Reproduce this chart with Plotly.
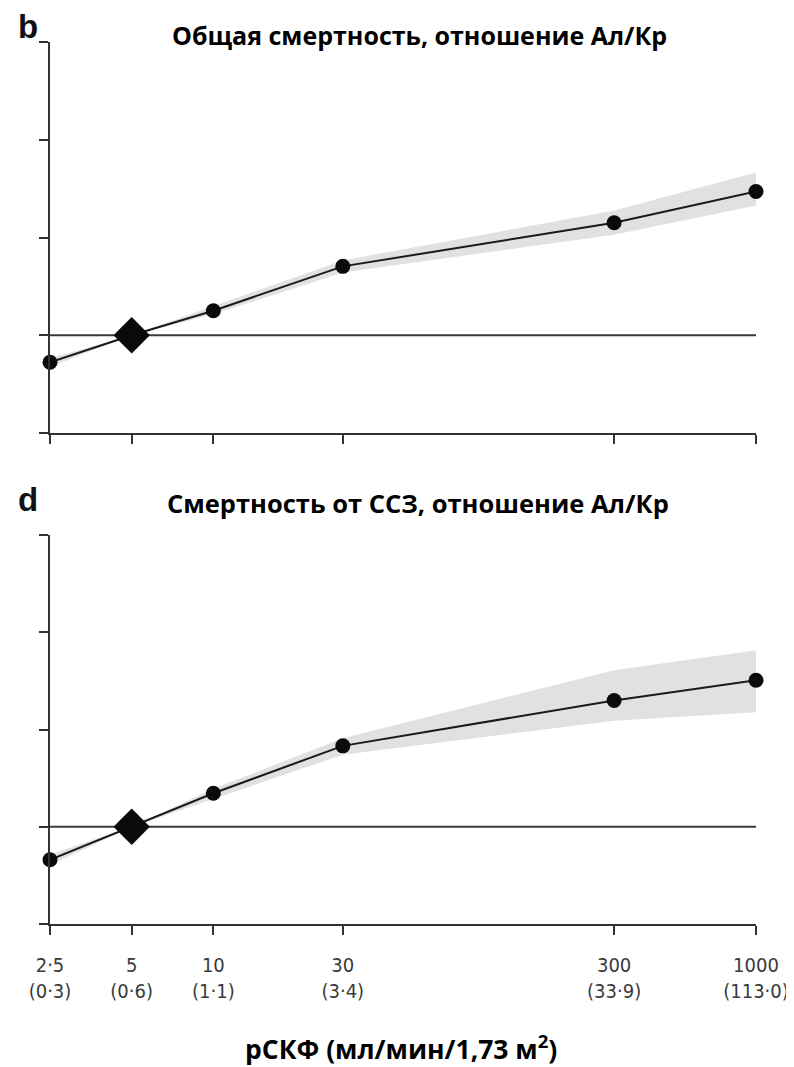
import math
import plotly.graph_objects as go

# ---- data ----
acr = [2.5, 5, 10, 30, 300, 1000]
acr_labels = ["2·5<br>(0·3)", "5<br>(0·6)", "10<br>(1·1)", "30<br>(3·4)", "300<br>(33·9)", "1000<br>(113·0)"]

hr_all = [0.826, 1.0, 1.19, 1.63, 2.22, 2.77]
hr_all_lo = [0.80, 1.0, 1.16, 1.56, 2.04, 2.51]
hr_all_hi = [0.85, 1.0, 1.23, 1.70, 2.42, 3.17]

hr_cvd = [0.79, 1.0, 1.27, 1.78, 2.46, 2.84]
hr_cvd_lo = [0.76, 1.0, 1.22, 1.67, 2.13, 2.26]
hr_cvd_hi = [0.82, 1.0, 1.31, 1.88, 3.05, 3.52]

ref_index = 1  # reference category (diamond)
y_ticks = [0.5, 1, 2, 4, 8]

title_top = "Общая смертность, отношение Ал/Кр"
title_bot = "Смертность от ССЗ, отношение Ал/Кр"
x_title = "рСКФ (мл/мин/1,73 м<sup>2</sup>)"

OFF = 8  # page body margin
W, H = 794 - OFF, 1067 - OFF
fig = go.Figure()

def add_panel(xa, ya, hr, lo, hi):
    fig.add_trace(go.Scatter(
        x=acr + acr[::-1], y=hi + lo[::-1], xaxis=xa, yaxis=ya,
        fill="toself", fillcolor="rgba(205,205,205,0.6)",
        line=dict(width=0), mode="lines", hoverinfo="skip", showlegend=False))
    fig.add_trace(go.Scatter(
        x=[acr[0], acr[-1]], y=[1, 1], xaxis=xa, yaxis=ya, mode="lines",
        line=dict(color="#3a3a3a", width=2), showlegend=False, cliponaxis=False))
    others = [i for i in range(len(acr)) if i != ref_index]
    fig.add_trace(go.Scatter(
        x=acr, y=hr, xaxis=xa, yaxis=ya, mode="lines",
        line=dict(color="#1a1a1a", width=2), showlegend=False, cliponaxis=False))
    fig.add_trace(go.Scatter(
        x=[acr[i] for i in others], y=[hr[i] for i in others], xaxis=xa, yaxis=ya,
        mode="markers", marker=dict(symbol="circle", size=15, color="#0a0a0a"),
        showlegend=False, cliponaxis=False))
    fig.add_trace(go.Scatter(
        x=[acr[ref_index]], y=[hr[ref_index]], xaxis=xa, yaxis=ya,
        mode="markers", marker=dict(symbol="diamond", size=28, color="#0a0a0a"),
        showlegend=False, cliponaxis=False))

add_panel("x", "y", hr_all, hr_all_lo, hr_all_hi)
add_panel("x2", "y2", hr_cvd, hr_cvd_lo, hr_cvd_hi)

def px_x(p):
    return (p - OFF) / W

def px_y(p):
    return 1 - (p - OFF) / H

xrange_ = [math.log10(acr[0]), math.log10(acr[-1])]
yrange_ = [math.log10(y_ticks[0]), math.log10(y_ticks[-1])]

axis_common = dict(showline=True, linecolor="#333333", linewidth=2, ticks="outside",
                   tickcolor="#333333", tickwidth=2, ticklen=9, showgrid=False,
                   zeroline=False, mirror=False, automargin=False)

fig.update_layout(
    width=W, height=H, margin=dict(l=0, r=0, t=0, b=0, autoexpand=False),
    paper_bgcolor="white", plot_bgcolor="white", showlegend=False,
    xaxis=dict(type="log", range=xrange_, domain=[px_x(50), px_x(756)], anchor="y",
               tickvals=acr, showticklabels=False, **axis_common),
    yaxis=dict(type="log", range=yrange_, domain=[px_y(433), px_y(42)], anchor="x",
               tickvals=y_ticks, showticklabels=False, **axis_common),
    xaxis2=dict(type="log", range=xrange_, domain=[px_x(50), px_x(756)], anchor="y2",
                tickvals=acr, ticktext=acr_labels, showticklabels=True,
                ticklabelstandoff=13,
                tickfont=dict(family="DejaVu Sans Condensed, Noto Sans", size=20, color="#3a3a3a"),
                **axis_common),
    yaxis2=dict(type="log", range=yrange_, domain=[px_y(924), px_y(535)], anchor="x2",
                tickvals=y_ticks, showticklabels=False, **axis_common),
)

ann_font = dict(family="Open Sans, Noto Sans, sans-serif", size=25, color="black")
fig.add_annotation(text="<b>" + title_top + "</b>", xref="paper", yref="paper",
                   x=px_x(419), y=px_y(35), xanchor="center", yanchor="middle",
                   showarrow=False, font=ann_font)
fig.add_annotation(text="<b>" + title_bot + "</b>", xref="paper", yref="paper",
                   x=px_x(418), y=px_y(503), xanchor="center", yanchor="middle",
                   showarrow=False, font=dict(ann_font, size=25.5))
fig.add_annotation(text="<b>" + x_title + "</b>", xref="paper", yref="paper",
                   x=px_x(401), y=px_y(1047), xanchor="center", yanchor="middle",
                   showarrow=False, font=dict(ann_font, size=26.5))
lab_font = dict(family="Liberation Sans, Arial, sans-serif", size=33, color="#111111")
fig.add_annotation(text="<b>b</b>", xref="paper", yref="paper",
                   x=px_x(16), y=px_y(27), xanchor="left", yanchor="middle",
                   showarrow=False, font=lab_font)
fig.add_annotation(text="<b>d</b>", xref="paper", yref="paper",
                   x=px_x(16), y=px_y(499), xanchor="left", yanchor="middle",
                   showarrow=False, font=lab_font)

fig.write_html("out.html")
